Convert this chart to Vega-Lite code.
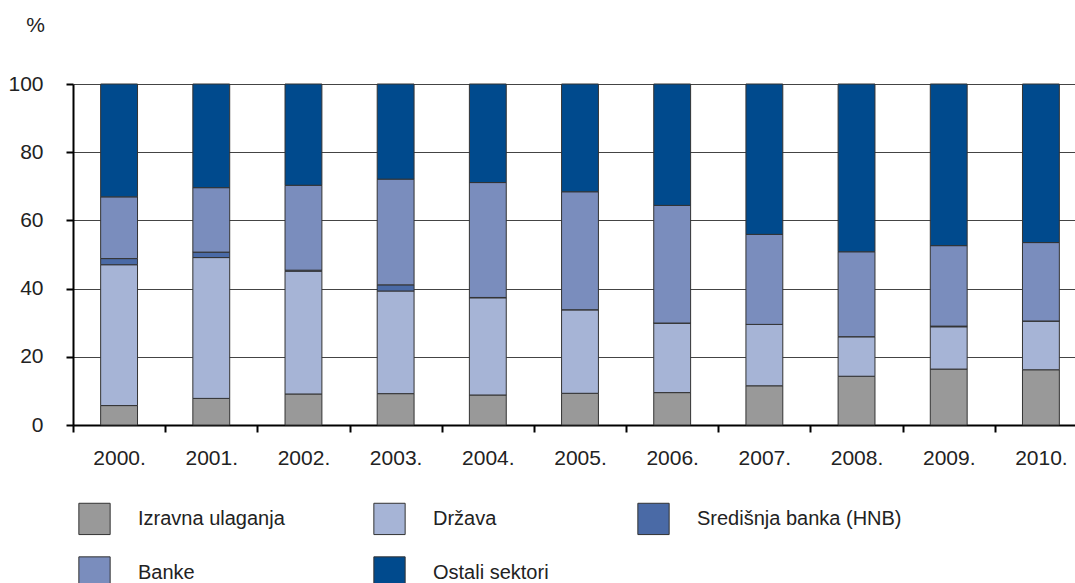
{
  "$schema": "https://vega.github.io/schema/vega-lite/v6.json",
  "autosize": {"type": "none"},
  "width": 1002,
  "height": 341,
  "padding": {"left": 73, "top": 84, "right": 0, "bottom": 158},
  "background": "white",
  "config": {"font": "Liberation Sans", "view": {"stroke": null}},
  "data": {"values": [
    {"godina": "2000.", "sektor": "Izravna ulaganja", "r": 1, "udio": 5.7},
    {"godina": "2000.", "sektor": "Država", "r": 2, "udio": 41.3},
    {"godina": "2000.", "sektor": "Središnja banka (HNB)", "r": 3, "udio": 1.8},
    {"godina": "2000.", "sektor": "Banke", "r": 4, "udio": 18.1},
    {"godina": "2000.", "sektor": "Ostali sektori", "r": 5, "udio": 33.1},
    {"godina": "2001.", "sektor": "Izravna ulaganja", "r": 1, "udio": 7.8},
    {"godina": "2001.", "sektor": "Država", "r": 2, "udio": 41.3},
    {"godina": "2001.", "sektor": "Središnja banka (HNB)", "r": 3, "udio": 1.6},
    {"godina": "2001.", "sektor": "Banke", "r": 4, "udio": 18.9},
    {"godina": "2001.", "sektor": "Ostali sektori", "r": 5, "udio": 30.4},
    {"godina": "2002.", "sektor": "Izravna ulaganja", "r": 1, "udio": 9.1},
    {"godina": "2002.", "sektor": "Država", "r": 2, "udio": 36.0},
    {"godina": "2002.", "sektor": "Središnja banka (HNB)", "r": 3, "udio": 0.3},
    {"godina": "2002.", "sektor": "Banke", "r": 4, "udio": 24.9},
    {"godina": "2002.", "sektor": "Ostali sektori", "r": 5, "udio": 29.7},
    {"godina": "2003.", "sektor": "Izravna ulaganja", "r": 1, "udio": 9.2},
    {"godina": "2003.", "sektor": "Država", "r": 2, "udio": 30.1},
    {"godina": "2003.", "sektor": "Središnja banka (HNB)", "r": 3, "udio": 1.8},
    {"godina": "2003.", "sektor": "Banke", "r": 4, "udio": 31.0},
    {"godina": "2003.", "sektor": "Ostali sektori", "r": 5, "udio": 27.9},
    {"godina": "2004.", "sektor": "Izravna ulaganja", "r": 1, "udio": 8.8},
    {"godina": "2004.", "sektor": "Država", "r": 2, "udio": 28.5},
    {"godina": "2004.", "sektor": "Središnja banka (HNB)", "r": 3, "udio": 0.1},
    {"godina": "2004.", "sektor": "Banke", "r": 4, "udio": 33.7},
    {"godina": "2004.", "sektor": "Ostali sektori", "r": 5, "udio": 28.9},
    {"godina": "2005.", "sektor": "Izravna ulaganja", "r": 1, "udio": 9.3},
    {"godina": "2005.", "sektor": "Država", "r": 2, "udio": 24.5},
    {"godina": "2005.", "sektor": "Središnja banka (HNB)", "r": 3, "udio": 0.0},
    {"godina": "2005.", "sektor": "Banke", "r": 4, "udio": 34.6},
    {"godina": "2005.", "sektor": "Ostali sektori", "r": 5, "udio": 31.6},
    {"godina": "2006.", "sektor": "Izravna ulaganja", "r": 1, "udio": 9.5},
    {"godina": "2006.", "sektor": "Država", "r": 2, "udio": 20.4},
    {"godina": "2006.", "sektor": "Središnja banka (HNB)", "r": 3, "udio": 0.0},
    {"godina": "2006.", "sektor": "Banke", "r": 4, "udio": 34.5},
    {"godina": "2006.", "sektor": "Ostali sektori", "r": 5, "udio": 35.6},
    {"godina": "2007.", "sektor": "Izravna ulaganja", "r": 1, "udio": 11.5},
    {"godina": "2007.", "sektor": "Država", "r": 2, "udio": 18.0},
    {"godina": "2007.", "sektor": "Središnja banka (HNB)", "r": 3, "udio": 0.0},
    {"godina": "2007.", "sektor": "Banke", "r": 4, "udio": 26.4},
    {"godina": "2007.", "sektor": "Ostali sektori", "r": 5, "udio": 44.1},
    {"godina": "2008.", "sektor": "Izravna ulaganja", "r": 1, "udio": 14.3},
    {"godina": "2008.", "sektor": "Država", "r": 2, "udio": 11.6},
    {"godina": "2008.", "sektor": "Središnja banka (HNB)", "r": 3, "udio": 0.0},
    {"godina": "2008.", "sektor": "Banke", "r": 4, "udio": 24.9},
    {"godina": "2008.", "sektor": "Ostali sektori", "r": 5, "udio": 49.2},
    {"godina": "2009.", "sektor": "Izravna ulaganja", "r": 1, "udio": 16.4},
    {"godina": "2009.", "sektor": "Država", "r": 2, "udio": 12.4},
    {"godina": "2009.", "sektor": "Središnja banka (HNB)", "r": 3, "udio": 0.2},
    {"godina": "2009.", "sektor": "Banke", "r": 4, "udio": 23.6},
    {"godina": "2009.", "sektor": "Ostali sektori", "r": 5, "udio": 47.4},
    {"godina": "2010.", "sektor": "Izravna ulaganja", "r": 1, "udio": 16.2},
    {"godina": "2010.", "sektor": "Država", "r": 2, "udio": 14.3},
    {"godina": "2010.", "sektor": "Središnja banka (HNB)", "r": 3, "udio": 0.0},
    {"godina": "2010.", "sektor": "Banke", "r": 4, "udio": 23.0},
    {"godina": "2010.", "sektor": "Ostali sektori", "r": 5, "udio": 46.5}
  ]},
  "mark": {"type": "bar", "width": {"band": 0.4}, "stroke": "#333", "strokeWidth": 1},
  "encoding": {
    "x": {
      "field": "godina", "type": "ordinal", "sort": null,
      "scale": {"range": [0, 1014], "paddingInner": 0, "paddingOuter": 0},
      "axis": {
        "title": null, "tickBand": "extent", "labelAngle": 0,
        "labelFontSize": 21, "labelColor": "#222", "labelPadding": 15,
        "tickSize": 7, "tickWidth": 2, "tickColor": "#000",
        "domainColor": "#000", "domainWidth": 2, "grid": false
      }
    },
    "y": {
      "field": "udio", "type": "quantitative", "stack": "zero",
      "scale": {"domain": [0, 100], "nice": false},
      "axis": {
        "title": "%", "titleAngle": 0, "titleX": -38, "titleY": -59,
        "titleAlign": "center", "titleBaseline": "middle",
        "titleFontSize": 21, "titleFontWeight": "normal", "titleColor": "#222",
        "values": [0, 20, 40, 60, 80, 100],
        "labelFontSize": 21, "labelColor": "#222", "labelPadding": 23,
        "tickSize": 7, "tickWidth": 2, "tickColor": "#000",
        "domainColor": "#000", "domainWidth": 2,
        "gridColor": "#444", "gridWidth": 1
      }
    },
    "order": {"field": "r", "type": "quantitative"},
    "color": {
      "field": "sektor", "type": "nominal",
      "scale": {
        "domain": ["Izravna ulaganja", "Država", "Središnja banka (HNB)", "Banke", "Ostali sektori"],
        "range": ["#999999", "#a6b4d6", "#4a6aa6", "#7a8dbd", "#004a8d"]
      },
      "legend": {
        "orient": "none", "legendX": 5, "legendY": 418,
        "direction": "horizontal", "columns": 3, "gridAlign": "each",
        "columnPadding": 86, "rowPadding": 17,
        "symbolType": "square", "symbolSize": 980,
        "symbolStrokeColor": "#333", "symbolStrokeWidth": 1, "symbolOpacity": 1,
        "labelFontSize": 20, "labelColor": "#222", "labelOffset": 27,
        "labelLimit": 400, "title": null,
        "encode": {
          "symbols": {
            "update": {
              "fill": {
                "condition": {"test": "datum.value === 'Izravna ulaganja'", "value": "#bebebe"},
                "value": {"expr": "scale('color', datum.value)"}
              },
              "stroke": {"value": "#333333"},
              "strokeWidth": {"value": 1}
            }
          }
        }
      }
    }
  }
}
